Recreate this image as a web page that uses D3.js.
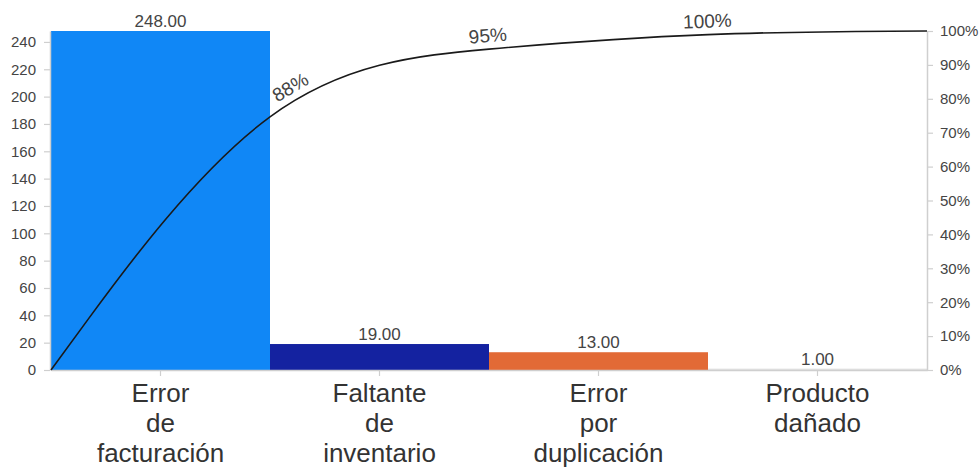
<!DOCTYPE html>
<html>
<head>
<meta charset="utf-8">
<script src="https://cdn.jsdelivr.net/npm/d3@7"></script>
<style>
  html, body { margin: 0; padding: 0; background: #fff; }
  svg { display: block; font-family: "Liberation Sans", Arial, sans-serif; }
</style>
</head>
<body>
<svg id="chart" width="980" height="468"></svg>
<script>
// Pareto chart: defect counts by cause with cumulative percentage curve
const categories = ["Error de facturación", "Faltante de inventario", "Error por duplicación", "Producto dañado"];
const categoryLines = [["Error", "de", "facturación"], ["Faltante", "de", "inventario"], ["Error", "por", "duplicación"], ["Producto", "dañado"]];
const counts = [248, 19, 13, 1];
const barColors = ["#1087f6", "#1422a0", "#e26a36", "#e2e2e2"];
const countTicks = [0, 20, 40, 60, 80, 100, 120, 140, 160, 180, 200, 220, 240];
const pctTicks = [0, 0.1, 0.2, 0.3, 0.4, 0.5, 0.6, 0.7, 0.8, 0.9, 1];

// cumulative share at each band boundary (starting from 0)
const total = d3.sum(counts);
const cumulative = [0];
counts.forEach((c, i) => cumulative.push(cumulative[i] + c / total));

const margin = { left: 51, right: 53, top: 31, bottom: 98 };
const W = 980, H = 468;
const svg = d3.select("#chart");

const x = d3.scaleBand().domain(categories).range([margin.left, W - margin.right]).padding(0);
const y = d3.scaleLinear().domain([0, d3.max(counts)]).range([H - margin.bottom, margin.top]);
const yPct = d3.scaleLinear().domain([0, 1]).range([H - margin.bottom, margin.top]);

const textColor = "#444";
const axisColor = "#cfcfcf";

// bars
svg.append("g").selectAll("rect").data(counts).join("rect")
  .attr("x", (d, i) => x(categories[i]))
  .attr("width", x.bandwidth())
  .attr("y", d => y(d))
  .attr("height", d => y(0) - y(d))
  .attr("fill", (d, i) => barColors[i]);

// value labels above bars
svg.append("g").selectAll("text").data(counts).join("text")
  .attr("x", (d, i) => x(categories[i]) + x.bandwidth() / 2)
  .attr("y", d => y(d) - 4)
  .attr("text-anchor", "middle")
  .attr("font-size", 17)
  .attr("fill", textColor)
  .text(d => d3.format(".2f")(d));

function styleAxis(g) {
  g.select(".domain").attr("stroke", axisColor).attr("stroke-width", 1.5);
  g.selectAll(".tick line").attr("stroke", axisColor).attr("stroke-width", 1.2);
  g.selectAll(".tick text").attr("fill", textColor).attr("font-size", 15)
    .attr("font-family", "'Liberation Sans', Arial, sans-serif");
}

// left count axis
svg.append("g")
  .attr("transform", `translate(${margin.left - 1},0)`)
  .call(d3.axisLeft(y).tickValues(countTicks).tickSize(6).tickSizeOuter(0).tickPadding(8))
  .call(styleAxis);

// right cumulative percentage axis
svg.append("g")
  .attr("transform", `translate(${W - margin.right},0)`)
  .call(d3.axisRight(yPct).tickValues(pctTicks).tickFormat(d3.format(".0%")).tickSize(6).tickSizeOuter(0).tickPadding(7))
  .call(styleAxis);

// bottom category axis
const xAxis = svg.append("g")
  .attr("transform", `translate(0,${H - margin.bottom})`)
  .call(d3.axisBottom(x).tickSize(6).tickSizeOuter(0).tickFormat(""));
styleAxis(xAxis);

const catLabels = svg.append("g").selectAll("text").data(categories).join("text")
  .attr("x", d => x(d) + x.bandwidth() / 2)
  .attr("y", H - margin.bottom + 32)
  .attr("text-anchor", "middle")
  .attr("font-size", 26)
  .attr("fill", "#333");
catLabels.each(function(d, i) {
  d3.select(this).selectAll("tspan").data(categoryLines[i]).join("tspan")
    .attr("x", x(d) + x.bandwidth() / 2)
    .attr("dy", (t, j) => j === 0 ? 0 : 30)
    .text(t => t);
});

// cumulative curve through band boundaries
const boundaryX = [margin.left].concat(categories.map(c => x(c) + x.bandwidth()));
const pts = cumulative.map((p, i) => [boundaryX[i], yPct(p)]);
const path = svg.append("path")
  .datum(pts)
  .attr("fill", "none")
  .attr("stroke", "#1a1a1a")
  .attr("stroke-width", 1.6)
  .attr("d", d3.line().curve(d3.curveBasis));

// percentage labels along the curve, rotated with its tangent
const node = path.node();
const len = node.getTotalLength();
const samples = d3.range(0, len + 0.5, 0.5).map(l => node.getPointAtLength(l));
function pointNearX(px) {
  let best = 0;
  samples.forEach((p, k) => { if (Math.abs(p.x - px) < Math.abs(samples[best].x - px)) best = k; });
  const a = samples[Math.max(best - 6, 0)], b = samples[Math.min(best + 6, samples.length - 1)];
  return { p: samples[best], angle: Math.atan2(b.y - a.y, b.x - a.x) * 180 / Math.PI };
}
const labelShift = [27, 0, 0];
const labelIdx = [1, 2, 3];
svg.append("g").selectAll("text").data(labelIdx).join("text")
  .each(function(i, k) {
    const { p, angle } = pointNearX(boundaryX[i] + labelShift[k]);
    d3.select(this)
      .attr("transform", `translate(${p.x},${p.y}) rotate(${angle})`)
      .attr("dy", -7)
      .attr("text-anchor", "middle")
      .attr("font-size", 19)
      .attr("fill", textColor)
      .text(d3.format(".0%")(cumulative[i]));
  });
</script>
</body>
</html>
